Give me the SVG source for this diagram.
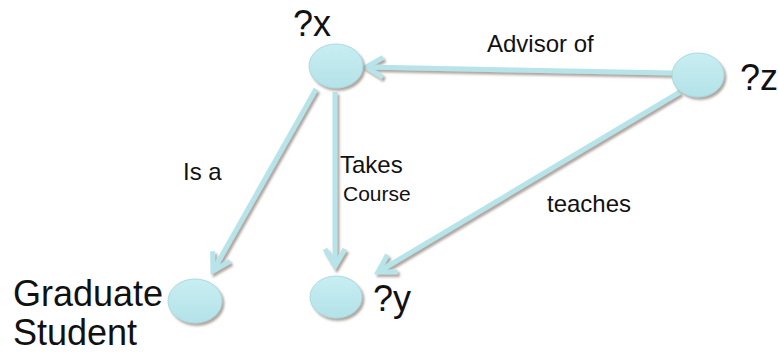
<svg xmlns="http://www.w3.org/2000/svg" width="778" height="353" viewBox="0 0 778 353">
<style>
.node{fill:url(#g);stroke:#a9d9e0;stroke-width:1;filter:url(#sh)}
.t{font-family:"Liberation Sans",Arial,sans-serif;fill:#111}
.big{font-size:36px}
.lab{font-size:24px}
.edge{fill:none;stroke:#b7e4e9;stroke-width:5;marker-end:url(#ah)}
</style>
<defs>
<linearGradient id="g" x1="0" y1="0" x2="0" y2="1">
<stop offset="0" stop-color="#c8eef2"/>
<stop offset="1" stop-color="#b3e2e8"/>
</linearGradient>
<filter id="sh" x="-30%" y="-30%" width="160%" height="160%">
<feDropShadow dx="2" dy="2.5" stdDeviation="1.2" flood-color="#7a6a60" flood-opacity="0.6"/>
</filter>
<marker id="ah" markerUnits="userSpaceOnUse" viewBox="-22 -14 26 28" refX="0" refY="0" markerWidth="26" markerHeight="28" orient="auto">
<path d="M-17,-10 L0,0 L-17,10" fill="none" stroke="#b7e4e9" stroke-width="5" stroke-linejoin="miter" stroke-linecap="butt"/>
</marker>
</defs>
<g id="connectors" filter="url(#sh)">
<line class="edge" x1="672" y1="73" x2="366" y2="67"/>
<line class="edge" x1="316" y1="89" x2="213" y2="271"/>
<line class="edge" x1="335" y1="92" x2="335" y2="266"/>
<line class="edge" x1="680" y1="92" x2="378" y2="272"/>
</g>
<g id="node-x">
<ellipse class="node" cx="336" cy="66" rx="27" ry="22"/>
<text class="t big" x="293" y="36">?x</text>
</g>
<g id="node-z">
<ellipse class="node" cx="698" cy="75" rx="26" ry="22"/>
<text class="t big" x="740" y="90">?z</text>
</g>
<g id="node-grad">
<ellipse class="node" cx="195" cy="301" rx="27" ry="22"/>
<text class="t big" x="13" y="306">Graduate</text>
<text class="t big" x="13" y="345">Student</text>
</g>
<g id="node-y">
<ellipse class="node" cx="336" cy="297" rx="26" ry="21"/>
<text class="t big" x="373" y="311">?y</text>
</g>
<g id="labels">
<text class="t lab" x="183" y="180">Is a</text>
<text class="t lab" x="340" y="173">Takes</text>
<text class="t" x="343" y="201" font-size="21">Course</text>
<text class="t lab" x="487" y="52">Advisor of</text>
<text class="t lab" x="547" y="212">teaches</text>
</g>
</svg>
